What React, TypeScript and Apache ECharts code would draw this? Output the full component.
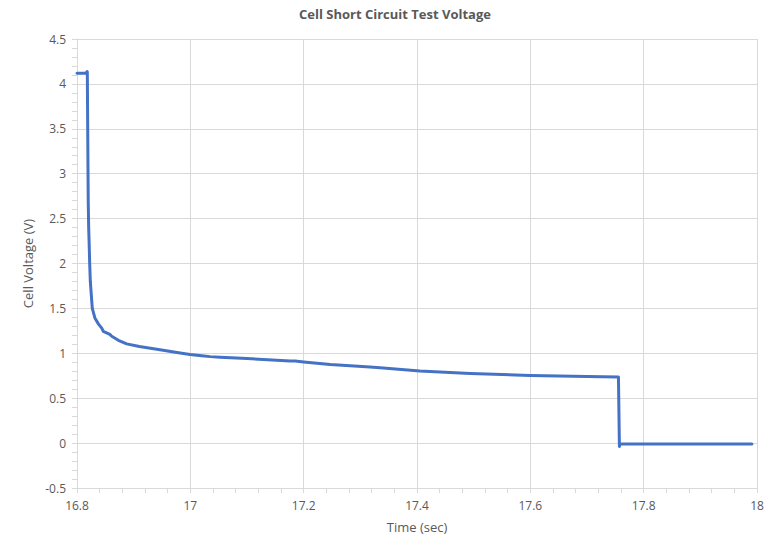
import React, { useEffect, useRef } from "react";
import * as echarts from "echarts";

const titleText = "Cell Short Circuit Test Voltage";
const xAxisName = "Time (sec)";
const yAxisName = "Cell Voltage (V)";

const timeSec = [
  16.8, 16.816, 16.8178, 16.8182, 16.819, 16.8198, 16.8206, 16.8212, 16.8224, 16.8235,
  16.827, 16.8318, 16.838, 16.8436, 16.8464, 16.858, 16.8613, 16.873, 16.8877, 16.91,
  16.9465, 16.982, 16.9995, 17.02, 17.035, 17.0524, 17.1, 17.176, 17.185, 17.2,
  17.247, 17.317, 17.335, 17.405, 17.494, 17.6, 17.7, 17.7555, 17.7572, 17.7585,
  17.8, 17.9, 17.991,
];
const voltage = [
  4.118, 4.12, 4.138, 4.13, 3.4, 2.7, 2.4, 2.28, 2.0, 1.8,
  1.5, 1.39, 1.325, 1.28, 1.245, 1.21, 1.19, 1.145, 1.105, 1.075,
  1.04, 1.003, 0.987, 0.972, 0.963, 0.956, 0.942, 0.915, 0.913, 0.903,
  0.876, 0.847, 0.84, 0.803, 0.776, 0.754, 0.742, 0.737, -0.038, -0.01,
  -0.01, -0.01, -0.01,
];

const xMin = 16.8, xMax = 18, xStep = 0.2;
const yMin = -0.5, yMax = 4.5, yStep = 0.5;

export default function App() {
  const ref = useRef<HTMLDivElement>(null);
  useEffect(() => {
    if (!ref.current) return;
    const chart = echarts.init(ref.current, null, { renderer: "svg" });
    const font = "'Open Sans', sans-serif";
    const gray = "#595959";
    const gridColor = "#d9d9d9";
    const fmt = (v: number) => String(Math.round(v * 10) / 10);
    chart.setOption({
      animation: false,
      backgroundColor: "#ffffff",
      title: {
        text: titleText,
        left: 390,
        textAlign: "center",
        top: 2,
        textStyle: { fontFamily: font, fontSize: 13, fontWeight: "bold", color: gray },
      },
      grid: { left: 77, width: 680, top: 39, height: 453, containLabel: false },
      xAxis: {
        type: "value",
        min: xMin,
        max: xMax,
        interval: xStep,
        name: xAxisName,
        nameLocation: "middle",
        nameGap: 32,
        nameTextStyle: { fontFamily: font, fontSize: 13, color: gray },
        axisLine: { show: true, onZero: false, lineStyle: { color: gridColor, width: 1 } },
        axisTick: { show: true, length: 5, lineStyle: { color: gridColor } },
        minorTick: { show: true, splitNumber: 5, length: 5, lineStyle: { color: gridColor } },
        splitLine: { show: true, lineStyle: { color: gridColor, width: 1 } },
        axisLabel: { fontFamily: font, fontSize: 12, color: gray, margin: 11, formatter: fmt },
      },
      yAxis: {
        type: "value",
        min: yMin,
        max: yMax,
        interval: yStep,
        name: yAxisName,
        nameLocation: "middle",
        nameGap: 38,
        nameRotate: 90,
        nameTextStyle: { fontFamily: font, fontSize: 13, color: gray },
        axisLine: { show: true, lineStyle: { color: gridColor, width: 1 } },
        axisTick: { show: true, length: 5, lineStyle: { color: gridColor } },
        minorTick: { show: true, splitNumber: 5, length: 5, lineStyle: { color: gridColor } },
        splitLine: { show: true, lineStyle: { color: gridColor, width: 1 } },
        axisLabel: { fontFamily: font, fontSize: 12, color: gray, margin: 11, formatter: fmt },
      },
      series: [
        {
          type: "line",
          data: timeSec.map((t, i) => [t, voltage[i]]),
          showSymbol: false,
          symbol: "none",
          lineStyle: { color: "#4472C4", width: 3, join: "round", cap: "round" },
          itemStyle: { color: "#4472C4" },
        },
      ],
    });
    return () => chart.dispose();
  }, []);
  return <div ref={ref} style={{ width: 772, height: 538, position: "fixed", left: 0, top: 0 }} />;
}
